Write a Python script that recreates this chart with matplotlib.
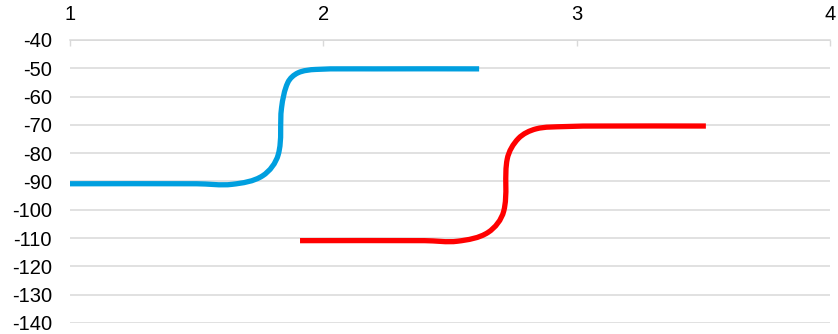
import numpy as np
import matplotlib
matplotlib.use("Agg")
import matplotlib.pyplot as plt
from matplotlib.path import Path
from matplotlib.patches import PathPatch

plt.rcParams['font.family'] = ['Liberation Sans', 'DejaVu Sans']
plt.rcParams['axes.unicode_minus'] = False

# data (smoothed scatter, Excel style)
blue_x = [1.0, 1.5, 1.64, 1.76, 1.822, 1.835, 1.86, 1.90, 1.97, 2.2, 2.615]
blue_y = [-90.8, -90.8, -91.0, -88.0, -80.5, -64.0, -55.0, -51.6, -50.4, -50.2, -50.2]
red_x = [1.908, 2.40, 2.53, 2.65, 2.712, 2.726, 2.77, 2.84, 2.95, 3.1, 3.51]
red_y = [-110.9, -110.9, -111.1, -108.0, -100.5, -82.0, -74.8, -71.4, -70.6, -70.4, -70.4]

x_ticks = [1, 2, 3, 4]
y_ticks = list(range(-140, -39, 10))

# rough pixels per data unit, used only to shape the smoothing
SX, SY = 253.3, 2.83


def smooth_path(xs, ys):
    # bezier segments through the points, tangents scaled by chord length
    q = np.column_stack([np.array(xs) * SX, np.array(ys) * SY])
    n = len(q)
    tang = []
    for i in range(n):
        d = q[min(i + 1, n - 1)] - q[max(i - 1, 0)]
        tang.append(d / np.hypot(*d))
    verts = [q[0]]
    codes = [Path.MOVETO]
    for i in range(n - 1):
        L = np.hypot(*(q[i + 1] - q[i]))
        verts += [q[i] + tang[i] * L / 3, q[i + 1] - tang[i + 1] * L / 3, q[i + 1]]
        codes += [Path.CURVE4] * 3
    verts = np.array(verts) / [SX, SY]
    return Path(verts, codes)


fig = plt.figure(figsize=(8.38, 3.34), dpi=100)
ax = fig.add_axes([70 / 838, 11 / 334, 760 / 838, 283 / 334])

for xs, ys, col in [(blue_x, blue_y, '#009FDF'), (red_x, red_y, '#FF0000')]:
    patch = PathPatch(smooth_path(xs, ys), facecolor='none', edgecolor=col,
                      lw=3.8, capstyle='butt', joinstyle='round', zorder=3)
    ax.add_patch(patch)

ax.set_xlim(1, 4)
ax.set_ylim(-140, -40)
ax.set_xticks(x_ticks)
ax.set_yticks(y_ticks)
ax.xaxis.tick_top()
ax.tick_params(axis='x', direction='in', length=4, width=1, color='#D9D9D9',
               pad=11.5, labelsize=14.5)
ax.tick_params(axis='y', length=0, pad=13, labelsize=14.5)
ax.grid(axis='y', color='#D9D9D9', lw=1.1)
ax.set_axisbelow(True)
for s in ['left', 'right', 'bottom']:
    ax.spines[s].set_visible(False)
ax.spines['top'].set_color('#D9D9D9')
ax.spines['top'].set_linewidth(1.1)

plt.savefig('out.png', dpi=100)
plt.close()
